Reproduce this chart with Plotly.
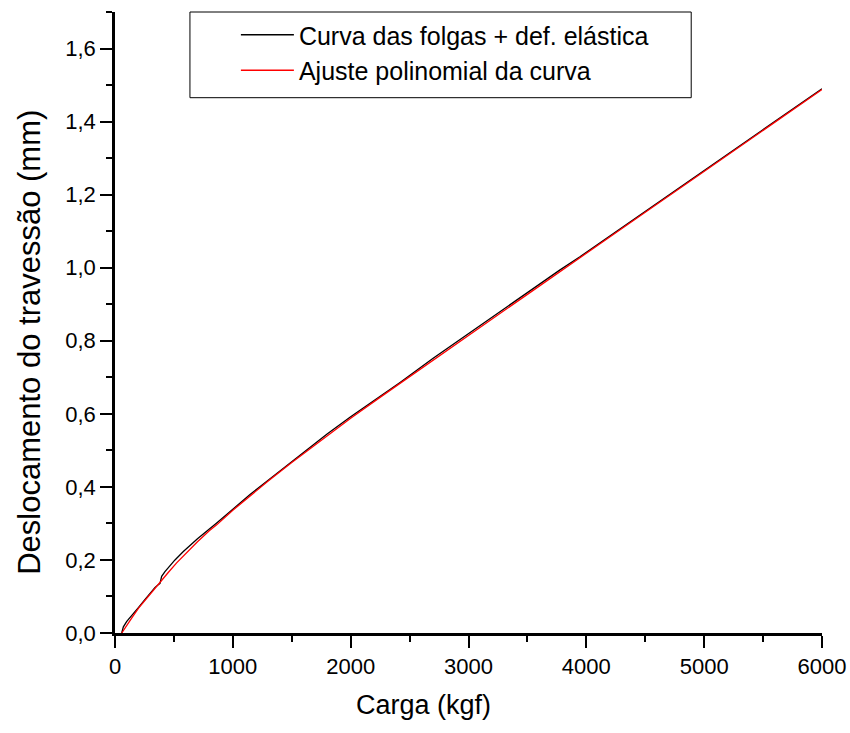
import plotly.graph_objects as go

# Measured curve: clearances + elastic deformation
carga_medida = [57, 71, 100, 150, 200, 250, 300, 340, 382, 396, 424, 509, 580, 700,
                863, 1000, 1146, 1300, 1570, 1800, 2000, 2249, 2419, 2700, 3000,
                3300, 3500, 3777, 3946, 4200, 4500, 4965, 5200, 5403, 5700, 6000]
desloc_medido = [0.000, 0.017, 0.032, 0.050, 0.070, 0.090, 0.110, 0.125, 0.136, 0.155,
                 0.168, 0.200, 0.223, 0.258, 0.301, 0.339, 0.379, 0.418, 0.488, 0.545,
                 0.592, 0.648, 0.686, 0.752, 0.820, 0.887, 0.932, 0.994, 1.030, 1.087,
                 1.154, 1.257, 1.310, 1.355, 1.422, 1.490]

# Polynomial fit of the curve
carga_ajuste = [57, 100, 150, 200, 300, 382, 450, 523, 600, 700, 800, 863, 1000, 1146,
                1300, 1500, 1800, 2000, 2249, 2500, 2700, 3000, 3300, 3500, 3777, 4000,
                4200, 4500, 4965, 5200, 5500, 5700, 6000]
desloc_ajuste = [0.000, 0.022, 0.045, 0.068, 0.108, 0.140, 0.165, 0.192, 0.218, 0.250,
                 0.280, 0.296, 0.336, 0.376, 0.416, 0.467, 0.540, 0.588, 0.645, 0.702,
                 0.748, 0.815, 0.882, 0.927, 0.990, 1.040, 1.085, 1.152, 1.256, 1.309,
                 1.376, 1.421, 1.488]

nome_medido = "Curva das folgas + def. elástica"
nome_ajuste = "Ajuste polinomial da curva"
titulo_x = "Carga (kgf)"
titulo_y = "Deslocamento do travessão (mm)"

x_ticks = [0, 1000, 2000, 3000, 4000, 5000, 6000]
y_ticks = [0.0, 0.2, 0.4, 0.6, 0.8, 1.0, 1.2, 1.4, 1.6]

FONT = "Liberation Sans, Arial, sans-serif"

fig = go.Figure()
fig.add_trace(go.Scatter(x=carga_medida, y=desloc_medido, mode="lines", name=nome_medido,
                         line=dict(color="black", width=1.3)))
fig.add_trace(go.Scatter(x=carga_ajuste, y=desloc_ajuste, mode="lines", name=nome_ajuste,
                         line=dict(color="#ff0000", width=1.3)))

axis_common = dict(
    showline=True, linecolor="black", linewidth=2.5,
    ticks="outside", ticklen=12, tickwidth=2, tickcolor="black",
    showgrid=False, zeroline=False, automargin=False,
    tickfont=dict(family=FONT, size=22, color="black"),
)

fig.update_xaxes(
    range=[0, 6000], tickvals=x_ticks, ticktext=[str(v) for v in x_ticks],
    minor=dict(dtick=500, ticklen=6, tickwidth=2, tickcolor="black", ticks="outside"),
    **axis_common,
)
fig.update_yaxes(
    range=[0, 1.7], tickvals=y_ticks, ticktext=[f"{v:.1f}".replace(".", ",") for v in y_ticks],
    minor=dict(dtick=0.1, ticklen=6, tickwidth=2, tickcolor="black", ticks="outside"),
    **axis_common,
)

# Axis titles
fig.add_annotation(text=titulo_x, xref="paper", yref="paper", x=0.437, y=-0.116,
                   xanchor="center", yanchor="middle", showarrow=False,
                   font=dict(family=FONT, size=27, color="black"))
fig.add_annotation(text=titulo_y, xref="paper", yref="paper", x=-0.121, y=0.468,
                   xanchor="center", yanchor="middle", showarrow=False, textangle=-90,
                   font=dict(family=FONT, size=31, color="black"))

# Legend frame
fig.add_shape(type="rect", xref="paper", yref="paper",
              x0=0.106, x1=0.815, y0=0.862, y1=1.0,
              line=dict(color="black", width=1), fillcolor="rgba(0,0,0,0)")

fig.update_layout(
    width=850, height=733,
    margin=dict(l=115, r=28, t=12, b=100),
    plot_bgcolor="white", paper_bgcolor="white",
    font=dict(family=FONT, color="black"),
    legend=dict(x=0.171, y=1.0, xanchor="left", yanchor="top",
                bgcolor="rgba(0,0,0,0)", borderwidth=0,
                font=dict(family=FONT, size=25, color="black"),
                itemwidth=53, tracegroupgap=0),
    showlegend=True,
)

fig.write_html("out.html")
